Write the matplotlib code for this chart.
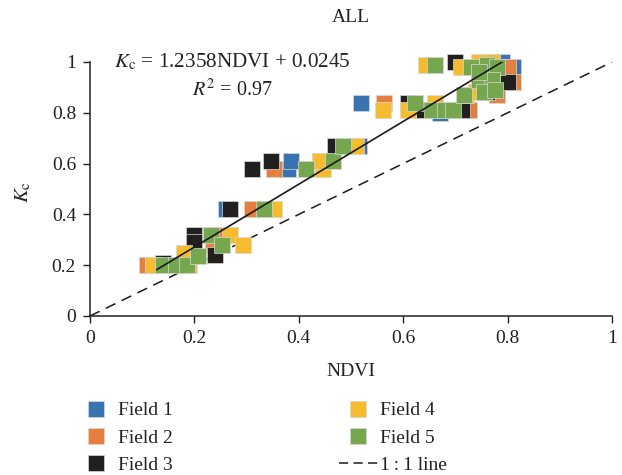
import matplotlib
matplotlib.use('Agg')
import matplotlib.pyplot as plt
from matplotlib.lines import Line2D

plt.rcParams['font.family'] = ['Liberation Serif', 'DejaVu Serif']
plt.rcParams['mathtext.fontset'] = 'stix'

# ---- data ----
field1_x = [0.200, 0.260, 0.380, 0.385, 0.516, 0.520, 0.670, 0.790, 0.810]
field1_y = [0.280, 0.420, 0.580, 0.610, 0.670, 0.840, 0.800, 1.000, 0.980]

field2_x = [0.110, 0.255, 0.235, 0.310, 0.352, 0.440, 0.564, 0.727, 0.780, 0.810, 0.800]
field2_y = [0.200, 0.320, 0.280, 0.420, 0.580, 0.610, 0.840, 0.810, 0.870, 0.920, 0.980]

field3_x = [0.140, 0.200, 0.200, 0.240, 0.268, 0.310, 0.346, 0.470, 0.610, 0.640, 0.713, 0.700, 0.760, 0.800]
field3_y = [0.210, 0.320, 0.290, 0.240, 0.420, 0.580, 0.610, 0.670, 0.840, 0.810, 0.810, 1.000, 0.880, 0.920]

field4_x = [0.120, 0.190, 0.180, 0.268, 0.293, 0.352, 0.446, 0.440, 0.510, 0.562, 0.610,
            0.660, 0.643, 0.710, 0.720, 0.745, 0.770, 0.740]
field4_y = [0.200, 0.200, 0.250, 0.320, 0.280, 0.420, 0.580, 0.610, 0.670, 0.810, 0.810,
            0.840, 0.990, 0.980, 0.870, 1.000, 1.000, 0.880]

field5_x = [0.140, 0.165, 0.185, 0.207, 0.232, 0.252, 0.333, 0.413, 0.465, 0.484, 0.623,
            0.655, 0.680, 0.695, 0.717, 0.660, 0.730, 0.760, 0.780, 0.745, 0.770, 0.755,
            0.775, 0.745]
field5_y = [0.200, 0.200, 0.200, 0.235, 0.320, 0.280, 0.420, 0.580, 0.610, 0.670, 0.840,
            0.810, 0.810, 0.810, 0.870, 0.990, 0.980, 0.990, 0.980, 0.930, 0.930, 0.880,
            0.890, 0.960]

field_labels = ['Field 1', 'Field 2', 'Field 3', 'Field 4', 'Field 5']
field_colors = ['#3a74b0', '#e57f3f', '#221f1f', '#f5bd2e', '#76a64d']

slope = 1.2358
intercept = 0.0245
fit_range = [0.128, 0.79]
one_to_one = [0, 1]

x_ticks = [0, 0.2, 0.4, 0.6, 0.8, 1]
x_tick_labels = ['0', '0.2', '0.4', '0.6', '0.8', '1']
y_ticks = [0, 0.2, 0.4, 0.6, 0.8, 1]
y_tick_labels = ['0', '0.2', '0.4', '0.6', '0.8', '1']

# ---- figure ----
fig = plt.figure(figsize=(6.22, 4.75), dpi=100)
ax = fig.add_axes([90/622, 159/475, 522/622, 254/475])

fs = 14

xs_all = [field1_x, field2_x, field3_x, field4_x, field5_x]
ys_all = [field1_y, field2_y, field3_y, field4_y, field5_y]
for xs, ys, c, lab in zip(xs_all, ys_all, field_colors, field_labels):
    ax.scatter(xs, ys, marker='s', s=130, c=c, edgecolors='#d8d8d8', linewidths=0.5,
               clip_on=False, zorder=3, label=lab)

fit_y = [slope * v + intercept for v in fit_range]
ax.plot(fit_range, fit_y, color='#1a1a1a', lw=1.2, zorder=5)
ax.plot(one_to_one, one_to_one, color='#1a1a1a', lw=1.1, ls=(0, (7, 4.5)), zorder=2)

ax.set_xlim(0, 1)
ax.set_ylim(0, 1)
ax.set_xticks(x_ticks)
ax.set_xticklabels(x_tick_labels)
ax.set_yticks(y_ticks)
ax.set_yticklabels(y_tick_labels)
ax.tick_params(direction='out', length=5, width=1, labelsize=fs, color='#222222',
               labelcolor='#222222', pad=5)
for s in ['top', 'right']:
    ax.spines[s].set_visible(False)
for s in ['left', 'bottom']:
    ax.spines[s].set_linewidth(1.1)
    ax.spines[s].set_color('#222222')

ax.text(0.272, 1.0, r'$K_\mathrm{c}$ = 1.2358NDVI + 0.0245', fontsize=15.2,
        ha='center', va='center', color='#222222', transform=ax.transData)
ax.text(0.272, 0.89, r'$R^2$ = 0.97', fontsize=fs + 0.5,
        ha='center', va='center', color='#222222', transform=ax.transData)

fig.text(351/622, 1 - 18/475, 'ALL', fontsize=fs, ha='center', va='center', color='#222222')
fig.text(351/622, 1 - 372/475, 'NDVI', fontsize=fs, ha='center', va='center', color='#222222')
fig.text(23/622, 1 - 192/475, r'$K_\mathrm{c}$', fontsize=fs + 1, ha='center', va='center',
         rotation=90, color='#222222')

handles = [Line2D([], [], marker='s', ls='none', markersize=11.5, markerfacecolor=c,
                  markeredgecolor='#d8d8d8', markeredgewidth=0.5, label=l)
           for c, l in zip(field_colors, field_labels)]
handles.append(Line2D([], [], color='#1a1a1a', lw=1.1, ls=(0, (6, 3.5)),
                      label='1\u2009:\u20091 line'))
leg = fig.legend(handles=handles, ncol=2, loc='center left',
                 bbox_to_anchor=(77/622, 1 - 438/475),
                 frameon=False, fontsize=fs, handlelength=2.0, handletextpad=0.1,
                 columnspacing=8.55, labelspacing=0.50, borderaxespad=0, borderpad=0)
for t in leg.get_texts():
    t.set_color('#222222')

fig.savefig('out.png', dpi=100)
